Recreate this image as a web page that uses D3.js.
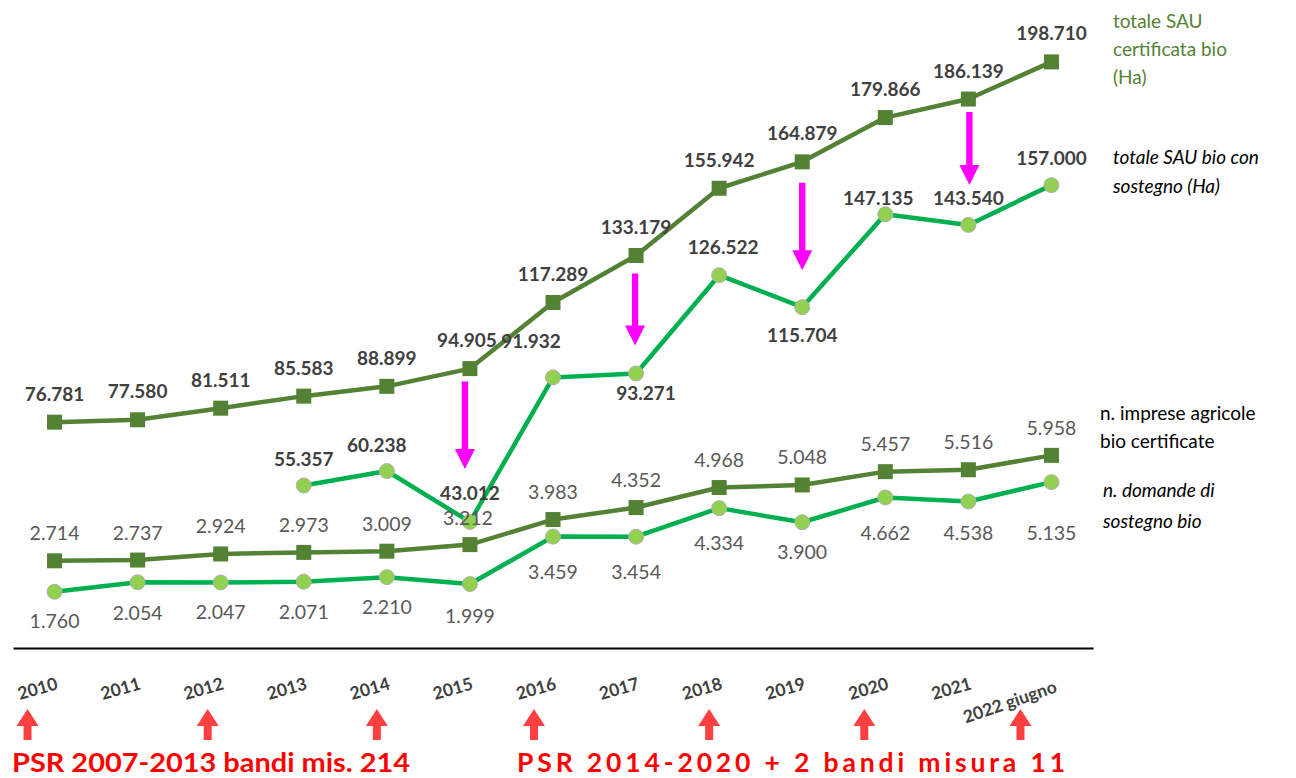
<!DOCTYPE html>
<html><head><meta charset="utf-8">
<script src="https://cdn.jsdelivr.net/npm/d3@7"></script>
<style>
html,body{margin:0;padding:0;background:#fff;}
svg{display:block;font-family:Lato,"Open Sans",sans-serif;}
</style></head>
<body><svg id="c" width="1296" height="778"></svg>
<script>
// ---- data ----
const years = ["2010","2011","2012","2013","2014","2015","2016","2017","2018","2019","2020","2021","2022 giugno"];
const sauCertificata = [76781,77580,81511,85583,88899,94905,117289,133179,155942,164879,179866,186139,198710];
const sauSostegno   = [null,null,null,55357,60238,43012,91932,93271,126522,115704,147135,143540,157000];
const impreseBio    = [2714,2737,2924,2973,3009,3212,3983,4352,4968,5048,5457,5516,5958];
const domandeBio    = [1760,2054,2047,2071,2210,1999,3459,3454,4334,3900,4662,4538,5135];
const bandoYears    = ["2010","2012","2014","2016","2018","2020","2022 giugno"];
const gapYears      = ["2015","2017","2019","2021"];
const legendCert    = ["totale SAU","certificata bio","(Ha)"];
const legendSost    = ["totale SAU bio con","sostegno (Ha)"];
const legendImp     = ["n. imprese agricole","bio certificate"];
const legendDom     = ["n. domande di","sostegno bio"];
const psrLabels     = ["PSR 2007-2013 bandi mis. 214","PSR 2014-2020 + 2 bandi misura 11"];

// ---- label placement (layout only) ----
const certLbl = years.map((y,i)=>[i===5?-3:0,-29]);
const sostLbl = [[0,0],[0,0],[0,0],[0,-27],[-10,-27],[0,-29],[-22,-37],[10,19],[4,-29],[0,27],[-7,-17],[0,-27],[0,-28]];
const impLbl  = years.map((y,i)=>[i===5?-2:0, i===5?-27:-28]);
const domLbl  = [[0,29],[0,30],[0,29],[0,30],[0,29],[0,31],[0,35],[0,35],[0,34],[0,29],[0,35],[0,31],[0,50]];
const bandoDx = [-27,-13,-10,-19,-10,-21,-31];
const gapGeom = [[-5,13,53],[-1,18,28],[0,21,37],[1,13,40]]; // dx, gap below top, gap above bottom

const svg = d3.select("#c");
const x = d3.scalePoint().domain(years).range([13,1093]).padding(0.5);
const yHa = d3.scaleLinear().domain([0,220000]).range([649,-1]);
const yN  = d3.scaleLinear().domain([0,20000]).range([649,-1]);
const fmt = v => d3.format(",")(v).replace(/,/g,".");

const cDark = "#548235", cGreen = "#00B050", cLight = "#92D050";

// axis
const ax = svg.append("g").attr("transform","translate(0,648)")
  .call(d3.axisBottom(x).tickSize(0).tickSizeOuter(0));
ax.select(".domain").attr("stroke","#000").attr("stroke-width",2);
ax.selectAll(".tick text")
  .attr("font-family","Lato, sans-serif").attr("font-size",17.5).attr("font-weight","bold")
  .attr("fill","#404040").attr("text-anchor","end")
  .attr("y",0).attr("dy","0.35em")
  .attr("transform",d => d==="2022 giugno" ? "translate(4,38) rotate(-19)" : "translate(2,35) rotate(-16)");

function drawSeries(vals, ys, lineColor, marker){
  const pts = years.map((yr,i)=>({yr, v: vals[i], i})).filter(d=>d.v!==null);
  const line = d3.line().x(d=>x(d.yr)).y(d=>ys(d.v));
  svg.append("path").datum(pts).attr("d",line).attr("fill","none")
    .attr("stroke",lineColor).attr("stroke-width",4.5).attr("stroke-linejoin","round");
  const g = svg.append("g");
  if(marker==="square"){
    g.selectAll("rect").data(pts).join("rect")
      .attr("x",d=>x(d.yr)-7.5).attr("y",d=>ys(d.v)-7.5).attr("width",15).attr("height",15)
      .attr("fill",cDark);
  } else {
    g.selectAll("circle").data(pts).join("circle")
      .attr("cx",d=>x(d.yr)).attr("cy",d=>ys(d.v)).attr("r",7.5)
      .attr("fill",cLight).attr("stroke","#b0b0b0").attr("stroke-width",1);
  }
  return pts;
}
function drawLabels(pts, ys, lbl, bold, color){
  svg.append("g").selectAll("text").data(pts).join("text")
    .attr("x",d=>x(d.yr)+lbl[d.i][0]).attr("y",d=>ys(d.v)+lbl[d.i][1])
    .attr("text-anchor","middle").attr("dominant-baseline","central")
    .attr("font-size",bold?19:19.5).attr("font-weight",bold?"bold":"normal")
    .attr("fill",color).text(d=>fmt(d.v));
}

const pImp = drawSeries(impreseBio, yN, cDark, "square");
const pDom = drawSeries(domandeBio, yN, cGreen, "circle");
const pCert = drawSeries(sauCertificata, yHa, cDark, "square");
const pSost = drawSeries(sauSostegno, yHa, cGreen, "circle");
drawLabels(pImp, yN, impLbl, false, "#595959");
drawLabels(pDom, yN, domLbl, false, "#595959");
drawLabels(pCert, yHa, certLbl, true, "#404040");
drawLabels(pSost, yHa, sostLbl, true, "#404040");

// magenta arrows
function downArrow(cx, y0, y1){
  const hw=10, sw=3.2, hh=20;
  return `M${cx-sw},${y0}L${cx+sw},${y0}L${cx+sw},${y1-hh}L${cx+hw},${y1-hh}L${cx},${y1}L${cx-hw},${y1-hh}L${cx-sw},${y1-hh}Z`;
}
gapYears.forEach((yr,k)=>{
  const i = years.indexOf(yr);
  const g = gapGeom[k];
  svg.append("path").attr("d",downArrow(x(yr)+g[0], yHa(sauCertificata[i])+g[1], yHa(sauSostegno[i])-g[2]))
    .attr("fill","#FF00FF");
});

// red up arrows
bandoYears.forEach((yr,k)=>{
  const cx = x(yr)+bandoDx[k], top=709, bot=740, hw=11, sw=4, hh=17;
  svg.append("path")
    .attr("d",`M${cx},${top}L${cx+hw},${top+hh}L${cx+sw},${top+hh}L${cx+sw},${bot}L${cx-sw},${bot}L${cx-sw},${top+hh}L${cx-hw},${top+hh}Z`)
    .attr("fill","#FF4040");
});

// PSR labels
svg.append("text").attr("x",12).attr("y",772).attr("font-size",26).attr("font-weight","bold")
  .attr("fill","#FF0000").attr("textLength",398).attr("lengthAdjust","spacingAndGlyphs").text(psrLabels[0]);
svg.append("text").attr("x",517).attr("y",772).attr("font-size",26.5).attr("font-weight","bold")
  .attr("fill","#FF0000").attr("textLength",548).attr("lengthAdjust","spacing").text(psrLabels[1]);

// legend texts
function legend(lines, x0, y0, lh, color, italic){
  const t = svg.append("text").attr("font-size",19).attr("fill",color)
    .attr("font-style",italic?"italic":"normal");
  lines.forEach((l,j)=>t.append("tspan").attr("x",x0).attr("y",y0+j*lh).text(l));
}
legend(legendCert, 1113, 28, 28, cDark, false);
legend(legendSost, 1113, 164, 29, "#000", true);
legend(legendImp, 1100, 420, 28, "#000", false);
legend(legendDom, 1103, 497, 31, "#000", true);
</script></body></html>
